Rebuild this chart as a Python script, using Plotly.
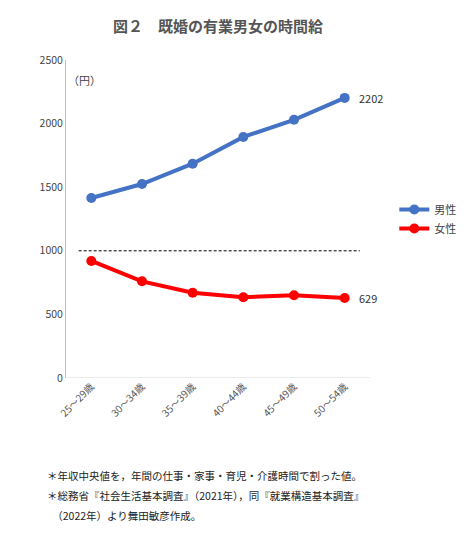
import plotly.graph_objects as go

categories = ["25～29歳", "30～34歳", "35～39歳", "40～44歳", "45～49歳", "50～54歳"]
male = [1415, 1525, 1685, 1895, 2030, 2202]
female = [920, 760, 670, 635, 650, 629]
yticks = [0, 500, 1000, 1500, 2000, 2500]
ref_line = 1000

font = "Noto Sans CJK JP"
fig = go.Figure()
fig.add_trace(go.Scatter(x=list(range(6)), y=male, name="男性", mode="lines+markers",
                         line=dict(color="#4472C4", width=4), marker=dict(size=10, color="#4472C4")))
fig.add_trace(go.Scatter(x=list(range(6)), y=female, name="女性", mode="lines+markers",
                         line=dict(color="#FF0000", width=4), marker=dict(size=10, color="#FF0000")))
fig.add_annotation(x=5, y=male[-1], text=str(male[-1]), xanchor="left", xshift=12, showarrow=False,
                   font=dict(size=11, color="#333"))
fig.add_annotation(x=5, y=female[-1], text=str(female[-1]), xanchor="left", xshift=12, showarrow=False,
                   font=dict(size=11, color="#333"))
fig.add_shape(type="line", x0=-0.25, x1=5.3, y0=ref_line, y1=ref_line,
              line=dict(color="black", width=1, dash="3px,2px"))
fig.add_annotation(xref="paper", yref="paper", x=0.0, y=0.97, text="（円）", showarrow=False,
                   xanchor="left", font=dict(size=11, color="#444"))
fig.add_annotation(xref="paper", yref="paper", x=0.5, y=1.0, yshift=47, text="<b>図２　既婚の有業男女の時間給</b>",
                   showarrow=False, xanchor="center", font=dict(size=15, color="#555"))
notes = ["＊年収中央値を，年間の仕事・家事・育児・介護時間で割った値。",
         "＊総務省『社会生活基本調査』（2021年），同『就業構造基本調査』",
         "　（2022年）より舞田敏彦作成。"]
for i, t in enumerate(notes):
    fig.add_annotation(xref="paper", yref="paper", x=-0.07, y=0, yshift=-97 - i * 20, text=t,
                       showarrow=False, xanchor="left", yanchor="middle", font=dict(size=10.5, color="#222"))
fig.update_layout(
    width=474, height=550, margin=dict(l=58, r=112, t=52, b=180),
    plot_bgcolor="white", paper_bgcolor="white", font=dict(family=font, color="#444"),
    legend=dict(x=1.08, y=0.5, xanchor="left", yanchor="middle", font=dict(size=11), bgcolor="rgba(0,0,0,0)"),
    xaxis=dict(range=[-0.5, 5.5], tickvals=list(range(6)), ticktext=categories, tickangle=-45,
               showgrid=False, zeroline=False, showline=False, tickfont=dict(size=10, color="#555")),
    yaxis=dict(range=[0, 2500], tickvals=yticks, showgrid=False, zeroline=False, showline=True,
               linecolor="#BFBFBF", linewidth=1, tickfont=dict(size=10.5, color="#444")),
)
fig.add_shape(type="line", xref="paper", yref="y", x0=0, x1=1, y0=0, y1=0, line=dict(color="#D9D9D9", width=1))
fig.write_html("out.html")
